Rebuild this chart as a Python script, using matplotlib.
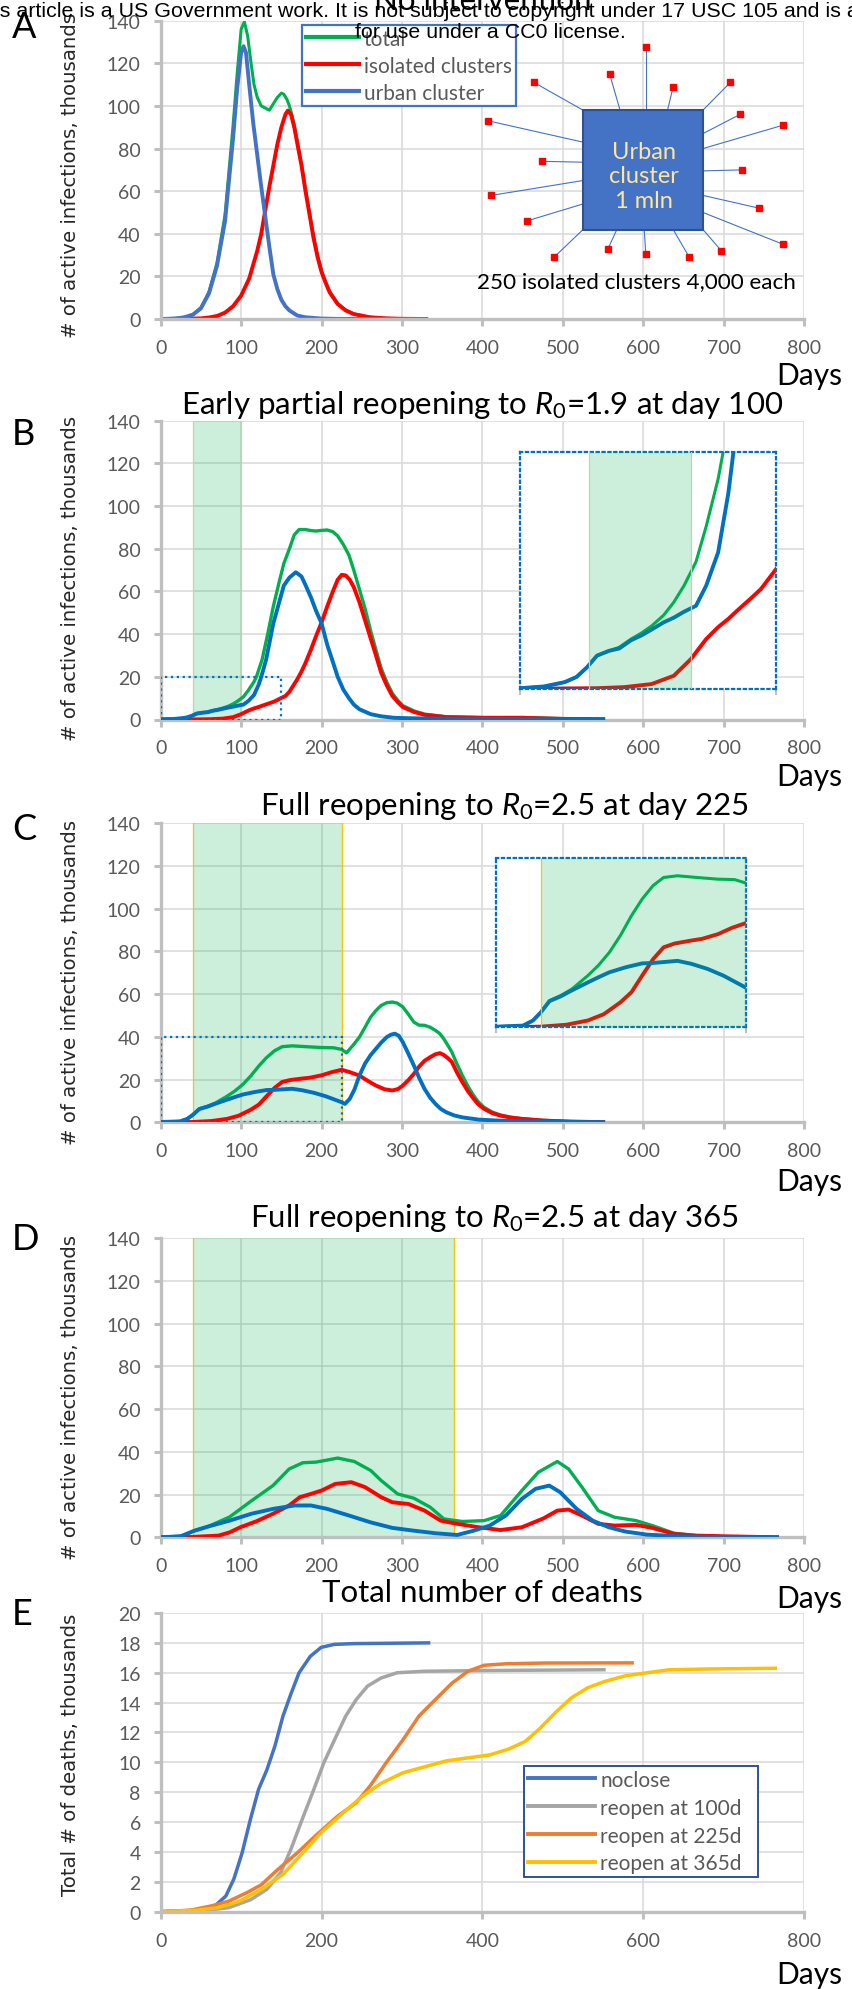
import matplotlib
matplotlib.use("Agg")
import matplotlib.pyplot as plt
from matplotlib.patches import Rectangle
from matplotlib.lines import Line2D
from matplotlib.legend_handler import HandlerLine2D

plt.rcParams['font.family'] = ['Lato', 'DejaVu Sans']
plt.rcParams['mathtext.fontset'] = 'custom'
plt.rcParams['mathtext.rm'] = 'Lato'
plt.rcParams['mathtext.it'] = 'Lato:italic'

# ---- data (days, thousands) ----
# A: no intervention
a_urban_days = [0, 10, 20, 30, 40, 50, 60, 70, 80, 90, 95, 100, 103, 106, 110, 115, 120, 125, 130, 135, 140,
                145, 150, 155, 160, 170, 180, 200, 220, 260, 330]
a_urban = [0, 0.1, 0.3, 0.8, 2, 5, 12, 25, 46, 85, 108, 125, 128, 125, 110, 92, 77, 62, 48, 34, 21,
           14, 9, 6, 4, 1.6, 0.8, 0.2, 0.05, 0, 0]
a_iso_days = [0, 30, 50, 60, 70, 80, 90, 100, 110, 120, 125, 130, 135, 140, 145, 150, 155, 158, 162, 166, 170,
              175, 180, 185, 190, 195, 200, 205, 210, 220, 230, 240, 260, 280, 300, 330]
a_iso = [0, 0.1, 0.3, 0.7, 1.4, 3, 6, 11, 19, 32, 40, 51, 62, 72, 82, 90, 96, 97.8, 96, 90, 82,
         72, 60, 49, 38, 29, 22, 17, 12.5, 7, 4, 2.3, 0.8, 0.3, 0.1, 0]
a_total_days = [0, 10, 20, 30, 40, 50, 60, 70, 80, 90, 95, 100, 104, 108, 112, 116, 120, 125, 130, 135, 140,
                145, 150, 153, 157, 160, 163, 166, 170, 175, 180, 185, 190, 195, 200, 205, 210, 220, 230, 240,
                260, 280, 300, 330]
a_total = [0, 0.1, 0.3, 0.9, 2.2, 5.3, 12.7, 26.4, 49, 91, 115, 136, 139.5, 133, 121, 110, 104, 100, 99, 98, 101,
           104, 106, 105.5, 103, 100, 96, 91, 83, 73, 61, 50, 39, 30, 22.5, 17.5, 13, 7.3, 4.2, 2.4,
           0.8, 0.3, 0.1, 0]

# B: early partial reopening (R0=1.9 at day 100)
b_urban_days = [0, 14, 26, 33, 39, 45, 52, 58, 65, 71, 77, 84, 90, 96, 103, 109, 116, 122, 125, 131, 140,
                153, 160, 168, 175, 180, 187, 193, 200, 207, 214, 220, 227, 234, 240, 247, 261, 274, 290,
                308, 350, 400, 450, 500, 550]
b_urban = [0.05, 0.2, 0.56, 1.0, 1.8, 2.8, 3.2, 3.4, 4.1, 4.5, 5.0, 5.6, 6.0, 6.5, 7.0, 8.7, 11.5, 16.5, 20, 28, 45,
           62.7, 66.5, 69, 67, 63, 57, 51, 45, 35, 27, 20, 14, 10, 7, 4.8, 2.5, 1.5, 0.8,
           0.6, 0.4, 0.3, 0.2, 0.15, 0.1]
b_iso_days = [0, 45, 61, 77, 90, 100, 109, 116, 122, 128, 135, 141, 150, 155, 160, 165, 170, 175, 180, 187, 193,
              200, 207, 214, 220, 225, 230, 235, 240, 247, 254, 261, 268, 274, 281, 288, 295, 301, 315, 328,
              355, 400, 450, 500, 550]
b_iso = [0, 0.05, 0.14, 0.4, 1.1, 2.5, 4.2, 5.2, 5.9, 6.7, 7.6, 8.4, 10.1, 11, 13, 16, 19, 22.5, 26.5, 33, 39,
         45.5, 53, 60, 65.5, 67.8, 67.5, 65.5, 62, 55, 46.5, 38, 29.5, 22, 16, 11, 8, 5.8, 3.5, 2.2,
         1.1, 0.8, 0.8, 0.3, 0.1]
b_total_days = [0, 14, 26, 33, 39, 45, 52, 58, 65, 71, 77, 84, 90, 96, 103, 109, 116, 119, 126, 133, 140,
                147, 153, 160, 166, 172, 180, 187, 193, 200, 207, 214, 220, 227, 234, 240, 247, 254, 261, 268,
                274, 281, 288, 295, 301, 315, 328, 355, 400, 450, 500, 550]
b_total = [0.05, 0.2, 0.56, 1.0, 1.8, 2.8, 3.2, 3.5, 4.2, 4.7, 5.3, 6.2, 7.3, 8.7, 10.7, 13.7, 17.7, 20, 28, 40, 53,
           64, 73, 80, 86.5, 89, 89, 88.5, 88.3, 88.6, 88.8, 88, 86, 82, 77, 70, 61, 52, 41.5, 32,
           24, 17.5, 12.2, 8.8, 6.5, 4, 2.5, 1.3, 0.9, 0.9, 0.4, 0.15]

# C: full reopening (R0=2.5 at day 225)
c_urban_days = [0, 24, 33, 40, 48, 58, 68, 82.5, 92, 102, 117, 131.6, 141.5, 163.5, 176, 190.6, 205, 215, 225,
                229, 235, 241, 247, 254, 261, 267.5, 274, 281, 286, 291, 296, 301, 308, 314.7, 321, 328, 335,
                341.6, 348, 355, 365, 375, 395.6, 420, 443, 500, 550]
c_urban = [0.15, 0.4, 1.6, 3.5, 6.2, 7.3, 8.7, 10.6, 11.8, 13, 14.2, 15.1, 15.2, 15.7, 15, 13.8, 12.2, 10.8, 9.4,
           8.6, 11, 15.5, 21.9, 27.5, 31.5, 34.4, 37.3, 39.9, 41, 41.5, 40.5, 37.5, 32, 26.6, 21, 15.6, 11.5,
           8.6, 6.3, 4.7, 3.2, 2.3, 1.25, 0.8, 0.5, 0.2, 0.1]
c_iso_days = [0, 40, 63, 82.5, 97, 112, 122, 131.6, 141.5, 151, 161, 176, 185.7, 200, 212.7, 225, 235, 247, 257,
              267.5, 278, 288, 295, 301, 308, 314.7, 321, 328, 335, 341, 347, 352, 357, 362, 368, 375, 382,
              389, 395, 402, 412, 422.5, 435, 449, 476, 510, 550]
c_iso = [0, 0.15, 0.6, 1.6, 3.1, 5.9, 8.3, 12.2, 16.1, 18.9, 19.8, 20.5, 20.9, 22, 23.5, 24.6, 23.5, 21.9, 19.5,
         17.2, 15.5, 14.9, 15.6, 17.2, 19.8, 22.7, 26, 28.8, 30.5, 31.8, 32.4, 31.5, 30, 28.2, 23.5, 18.8, 14.5,
         11, 8.3, 6.3, 4.3, 3.1, 2.2, 1.6, 0.8, 0.3, 0.1]
c_total_days = [0, 24, 33, 40, 48, 58, 68, 82.5, 92, 102, 112, 122, 131.6, 141.5, 151, 163.5, 181, 200, 215, 225,
                231, 240, 247, 254, 261, 268, 274, 281, 288, 294, 301, 308, 314.7, 321, 328, 335, 341.6, 347,
                352, 357, 362, 368, 375, 382, 389, 395, 402, 412, 422.5, 435, 449, 476, 510, 550]
c_total = [0.15, 0.4, 1.6, 3.5, 6.3, 7.5, 9, 12.2, 14.6, 17.7, 21.7, 26.4, 30.3, 33.5, 35.4, 35.8, 35.4, 35, 34.9, 34.1,
           32.5, 36.5, 39.9, 44.5, 49.3, 52.5, 54.7, 56, 56.3, 55.8, 54, 50.5, 46.9, 45.5, 45.4, 44.5, 43, 41.5,
           39, 36, 32.8, 27.5, 21.9, 16.8, 12.5, 9.5, 7, 4.8, 3.4, 2.4, 1.7, 0.9, 0.4, 0.2]

# D: full reopening (R0=2.5 at day 365)
d_urban_days = [0, 25, 42, 58.6, 85.6, 112.5, 139.5, 166.4, 186.7, 207, 234, 261, 288, 314.7, 341.6, 368.6, 389,
                409, 429, 449, 466, 483, 496.6, 517, 537, 557, 577.5, 604.4, 645, 678.6, 766]
d_urban = [0, 0.5, 3.1, 5, 7.8, 11, 13.3, 14.9, 14.9, 13.3, 10.2, 7, 4.4, 3.1, 1.9, 1.1, 3.1,
           5.5, 10.2, 18, 22.7, 24.2, 21.1, 13.3, 7.8, 4.7, 2.7, 1.25, 0.5, 0.2, 0]
d_iso_days = [0, 38, 72, 85.6, 99, 119, 139.5, 159.7, 173, 186.7, 200, 217, 237, 254, 274, 288, 308, 328, 348,
              368.6, 395.6, 422.5, 449, 476, 493, 507, 523.6, 543.8, 564, 591, 611, 638, 665, 699, 766]
d_iso = [0, 0.15, 0.8, 2.3, 4.7, 7.5, 11, 14.9, 18.8, 20.3, 21.9, 25, 25.8, 23.5, 18.8, 16.4, 15.6, 12.5, 7.8,
         6.3, 4.7, 3.4, 4.7, 8.9, 12.5, 13, 10.2, 6.3, 5.5, 5.8, 4.4, 1.6, 0.8, 0.5, 0]
d_total_days = [0, 25, 42, 58.6, 85.6, 112.5, 139.5, 159.7, 176.5, 193, 220, 240.6, 261, 274, 294.5, 314.7, 335,
                352, 375, 402, 422.5, 449, 469.5, 493, 507, 523.6, 543.8, 564, 591, 611, 638, 665, 699, 766]
d_total = [0, 0.5, 3.1, 5, 9.5, 17, 24.2, 32, 34.9, 35.2, 37.1, 35.5, 31.3, 26.6, 20.3, 18.3, 14.1,
           8.6, 7.4, 7.8, 10.2, 21.9, 30.5, 35.5, 32, 23.5, 12.5, 9.4, 7.8, 5.5, 1.9, 0.8, 0.3, 0]

# E: total number of deaths
e_noclose_days = [0, 44, 67.6, 81, 91, 101, 111.6, 121.7, 132, 142, 152, 162, 172, 186, 199.5, 216, 240, 333]
e_noclose = [0, 0.1, 0.4, 1.05, 2.2, 3.9, 6.2, 8.2, 9.5, 11.1, 13.1, 14.6, 16, 17.1, 17.7, 17.9, 17.95, 18]
e_r100_days = [0, 57.5, 84.5, 111.6, 132, 149, 162, 176, 189, 203, 216, 230, 243, 257, 274, 294, 328, 409, 551]
e_r100 = [0, 0.1, 0.27, 0.8, 1.5, 2.6, 4.2, 6.2, 8, 10, 11.5, 13.1, 14.2, 15.1, 15.65, 16, 16.1, 16.15, 16.2]
e_r225_days = [0, 37, 64, 84.5, 108, 125, 145, 169, 192.7, 220, 243, 260, 280.6, 301, 321, 341.4, 362, 382, 402,
               429, 477, 586]
e_r225 = [0, 0.1, 0.4, 0.7, 1.3, 1.8, 2.8, 3.9, 5.1, 6.4, 7.3, 8.4, 10, 11.5, 13.1, 14.2, 15.3, 16.1, 16.5,
          16.6, 16.65, 16.66]
e_r365_days = [0, 44, 71, 98, 125, 152, 176, 199.5, 226.5, 250, 274, 301, 328, 355, 382, 409, 433, 453, 470, 490,
               510, 531, 551, 578, 605, 632, 680, 764]
e_r365 = [0, 0.1, 0.27, 0.7, 1.5, 2.5, 3.9, 5.3, 6.6, 7.7, 8.6, 9.3, 9.7, 10.1, 10.3, 10.5, 10.9, 11.4, 12.2, 13.3,
          14.3, 15, 15.4, 15.8, 16, 16.2, 16.25, 16.3]

# lockdown periods (start, end) and zoom windows (xmax, ymax)
b_closed = (40, 100)
c_closed = (40, 225)
d_closed = (40, 365)
b_zoom = (150, 20)
c_zoom = (225, 40)

# urban cluster sketch in panel A (days, thousands)
urban_box = (525, 42, 674, 98)
spokes = [((603, 98), (603, 127.6)), ((571, 98), (558, 115)), ((525, 98), (464, 111)),
          ((630, 98), (637, 109)), ((674, 98), (708, 111)), ((525, 83), (407, 93)),
          ((674, 87), (720, 96)), ((674, 80), (774, 91)), ((525, 73.6), (474, 74)),
          ((674, 69.5), (723, 70)), ((525, 65), (411, 58)), ((674, 58), (744, 52)),
          ((525, 54), (455, 46)), ((674, 50), (774, 35)), ((525, 42), (489, 29)),
          ((567, 42), (556, 33)), ((601, 42), (603, 30.5)), ((637, 42), (657, 29)),
          ((674, 42), (697, 32))]

W, H = 852, 1990
fig = plt.figure(figsize=(W / 100, H / 100), dpi=100)

GREEN, RED = '#00b050', '#ff0000'
GRAY_AX = '#bfbfbf'
TXT = '#595959'
LW = 2.8


class RightLine(HandlerLine2D):
    # legend line drawn only on the right part of the handle box
    def __init__(self, frac, **kw):
        super().__init__(**kw)
        self.frac = frac

    def create_artists(self, legend, orig_handle, xdescent, ydescent, width, height, fontsize, trans):
        arts = super().create_artists(legend, orig_handle, xdescent, ydescent, width, height, fontsize, trans)
        for a in arts:
            xd = list(a.get_xdata())
            if len(xd) == 2:
                a.set_xdata([xd[1] - (xd[1] - xd[0]) * self.frac, xd[1]])
        return arts


def add_ax(left, top, right, bottom):
    return fig.add_axes([left / W, 1 - bottom / H, (right - left) / W, (bottom - top) / H])


def style(ax, ymax, ystep, xstep):
    ax.set_xlim(0, 800)
    ax.set_ylim(0, ymax)
    ax.set_xticks(range(0, 801, xstep))
    ax.set_yticks(range(0, ymax + 1, ystep))
    ax.grid(True, color='#d9d9d9', lw=1.1)
    ax.set_axisbelow(True)
    for s in ['top', 'right']:
        ax.spines[s].set_visible(False)
    for s in ['left', 'bottom']:
        ax.spines[s].set_color(GRAY_AX)
        ax.spines[s].set_linewidth(2.4)
    ax.tick_params(length=5.3, width=2.2, color=GRAY_AX, labelcolor=TXT, labelsize=14, pad=9)


def ylabel(ax, text, yfrac):
    ax.set_ylabel(text, family='DejaVu Sans', fontsize=14.2, color='#262626')
    ax.yaxis.set_label_coords(-0.1254, yfrac)


def title(ax, text, xfrac, pad_px):
    ax.text(xfrac, 1 + pad_px / 299, text, transform=ax.transAxes, ha='center', va='baseline',
            fontsize=22.5, color='black')


def closed(ax, span, edge, z):
    ax.axvspan(span[0], span[1], color=GREEN, alpha=0.2, lw=0, zorder=z)
    for x in span:
        ax.axvline(x, color=edge, lw=0.9, zorder=z)


def inset(box, zoom, span, edge, series):
    ia = add_ax(*box)
    ia.set_facecolor('white')
    ia.set_xlim(0, zoom[0])
    ia.set_ylim(0, zoom[1])
    for days, vals, col, lw in series:
        ia.plot(days, vals, color=col, lw=lw, zorder=2)
    closed(ia, span, edge, 3)
    ia.set_yticks([])
    ia.set_xticks([0, zoom[0]])
    ia.tick_params(axis='x', length=4, width=1.5, color=GRAY_AX, labelbottom=False)
    for s in ia.spines.values():
        s.set_color('#0070c0')
        s.set_linestyle(':')
        s.set_linewidth(1.6)
    return ia


def days_label(yc):
    fig.text(842 / W, 1 - yc / H, 'Days', ha='right', va='center', fontsize=21.5)


def letter(ch, top):
    fig.text(12 / W, 1 - top / H, ch, ha='left', va='top', fontsize=26)


# ---------------- A ----------------
axA = add_ax(160.7, 21.7, 804.3, 320)
style(axA, 140, 20, 100)
axA.plot(a_total_days, a_total, color=GREEN, lw=2.2, label='total')
axA.plot(a_iso_days, a_iso, color=RED, lw=LW, label='isolated clusters')
axA.plot(a_urban_days, a_urban, color='#4472c4', lw=LW, label='urban cluster')
ylabel(axA, '# of active infections, thousands', 0.486)
title(axA, 'No intervention', 0.5, 11.7)

x0, y0, x1, y1 = urban_box
axA.add_patch(Rectangle((x0, y0), x1 - x0, y1 - y0, fc='#4472c4', ec='#2f528f', lw=1.5, zorder=5))
for (ax_, ay_), (sx, sy) in spokes:
    axA.plot([ax_, sx], [ay_, sy], color='#4472c4', lw=0.8, zorder=4)
    axA.plot(sx, sy, marker='s', ms=5, color='#ff0000', mec='#ff0000', zorder=6)
axA.text(601, 67.3, 'Urban\ncluster\n1 mln', ha='center', va='center', color='#ffe699',
         fontsize=17, linespacing=1.2, zorder=7)
axA.text(591.7, 17.8, '250 isolated clusters 4,000 each', ha='center', va='center',
         fontsize=16.2, color='black', zorder=7)
legA = axA.legend(loc='upper left', bbox_to_anchor=(302 / W, 1 - 26 / H, 214 / W, 0),
                  bbox_transform=fig.transFigure, mode='expand', borderaxespad=0, fancybox=False,
                  edgecolor='#4472c4', framealpha=1, fontsize=15, handlelength=2.57,
                  handletextpad=0.22, labelspacing=0.34, borderpad=0.17,
                  handler_map={Line2D: RightLine(0.9)})
legA.get_frame().set_linewidth(1.6)
for t in legA.get_texts():
    t.set_color(TXT)
for l in legA.get_lines():
    l.set_linewidth(3.0)
days_label(376)
letter('A', 11)

# ---------------- B ----------------
axB = add_ax(160.7, 421.7, 804.3, 720.5)
style(axB, 140, 20, 100)
closed(axB, b_closed, '#c4d79b', 1)
axB.plot(b_total_days, b_total, color=GREEN, lw=2.4, zorder=3)
axB.plot(b_iso_days, b_iso, color=RED, lw=LW, zorder=3)
axB.plot(b_urban_days, b_urban, color='#0070c0', lw=LW, zorder=3)
axB.add_patch(Rectangle((0, 0), b_zoom[0], b_zoom[1], fill=False, ec='#0070c0', ls=':', lw=1.6, zorder=4))
ylabel(axB, '# of active infections, thousands', 0.475)
title(axB, r'Early partial reopening to $\mathit{R_0}$=1.9 at day 100', 0.5, 8)
inset((520.3, 452.7, 776.1, 689.8), b_zoom, b_closed, '#c4d79b',
      [(b_total_days, b_total, GREEN, 2.2), (b_iso_days, b_iso, RED, LW), (b_urban_days, b_urban, '#0070c0', LW)])
days_label(777)
letter('B', 418)

# ---------------- C ----------------
axC = add_ax(160.7, 824.3, 804.3, 1123.3)
style(axC, 140, 20, 100)
closed(axC, c_closed, '#ffc000', 1)
axC.plot(c_total_days, c_total, color=GREEN, lw=2.4, zorder=3)
axC.plot(c_iso_days, c_iso, color=RED, lw=LW, zorder=3)
axC.plot(c_urban_days, c_urban, color='#0070c0', lw=LW, zorder=3)
axC.add_patch(Rectangle((0, 0), c_zoom[0], c_zoom[1], fill=False, ec='#0070c0', ls=':', lw=1.6, zorder=4))
ylabel(axC, '# of active infections, thousands', 0.471)
title(axC, r'Full reopening to $\mathit{R_0}$=2.5 at day 225', 0.534, 9)
inset((496.4, 859, 745.6, 1028.3), c_zoom, c_closed, '#ffc000',
      [(c_total_days, c_total, GREEN, 2.2), (c_iso_days, c_iso, RED, LW), (c_urban_days, c_urban, '#0070c0', LW)])
days_label(1182)
letter('C', 813)

# ---------------- D ----------------
axD = add_ax(160.7, 1239.3, 804.3, 1538.3)
style(axD, 140, 20, 100)
closed(axD, d_closed, '#ffc000', 1)
axD.plot(d_total_days, d_total, color=GREEN, lw=2.4, zorder=3)
axD.plot(d_iso_days, d_iso, color=RED, lw=LW, zorder=3)
axD.plot(d_urban_days, d_urban, color='#0070c0', lw=LW, zorder=3)
ylabel(axD, '# of active infections, thousands', 0.47)
title(axD, r'Full reopening to $\mathit{R_0}$=2.5 at day 365', 0.519, 12.6)
days_label(1599)
letter('D', 1223)

# ---------------- E ----------------
axE = add_ax(160.7, 1614, 804.3, 1912.7)
style(axE, 20, 2, 200)
axE.plot(e_noclose_days, e_noclose, color='#4472c4', lw=2.5, label='noclose')
axE.plot(e_r100_days, e_r100, color='#a5a5a5', lw=2.5, label='reopen at 100d')
axE.plot(e_r225_days, e_r225, color='#ed7d31', lw=2.5, label='reopen at 225d')
axE.plot(e_r365_days, e_r365, color='#ffc000', lw=2.5, label='reopen at 365d')
ylabel(axE, 'Total # of deaths, thousands', 0.528)
title(axE, 'Total number of deaths', 0.5, 12.3)
legE = axE.legend(loc='upper left', bbox_to_anchor=(524 / W, 1 - 1767 / H, 234 / W, 0),
                  bbox_transform=fig.transFigure, mode='expand', borderaxespad=0, fancybox=False,
                  edgecolor='#2f528f', framealpha=1, fontsize=15, handlelength=3.23,
                  handletextpad=0.25, labelspacing=0.38, borderpad=0.18,
                  handler_map={Line2D: RightLine(0.73)})
legE.get_frame().set_linewidth(1.4)
for t in legE.get_texts():
    t.set_color(TXT)
for l in legE.get_lines():
    l.set_linewidth(2.8)
days_label(1975)
letter('E', 1598)

# header watermark
fig.text(503 / W, 1 - 11.7 / H,
         'This article is a US Government work. It is not subject to copyright under 17 USC 105 and is also made available',
         ha='center', va='center', fontsize=15.4, family='Liberation Sans', color='black')
fig.text(490 / W, 1 - 33 / H, 'for use under a CC0 license.', ha='center', va='center',
         fontsize=15.4, family='Liberation Sans', color='black')

fig.savefig('out.png', dpi=100)
